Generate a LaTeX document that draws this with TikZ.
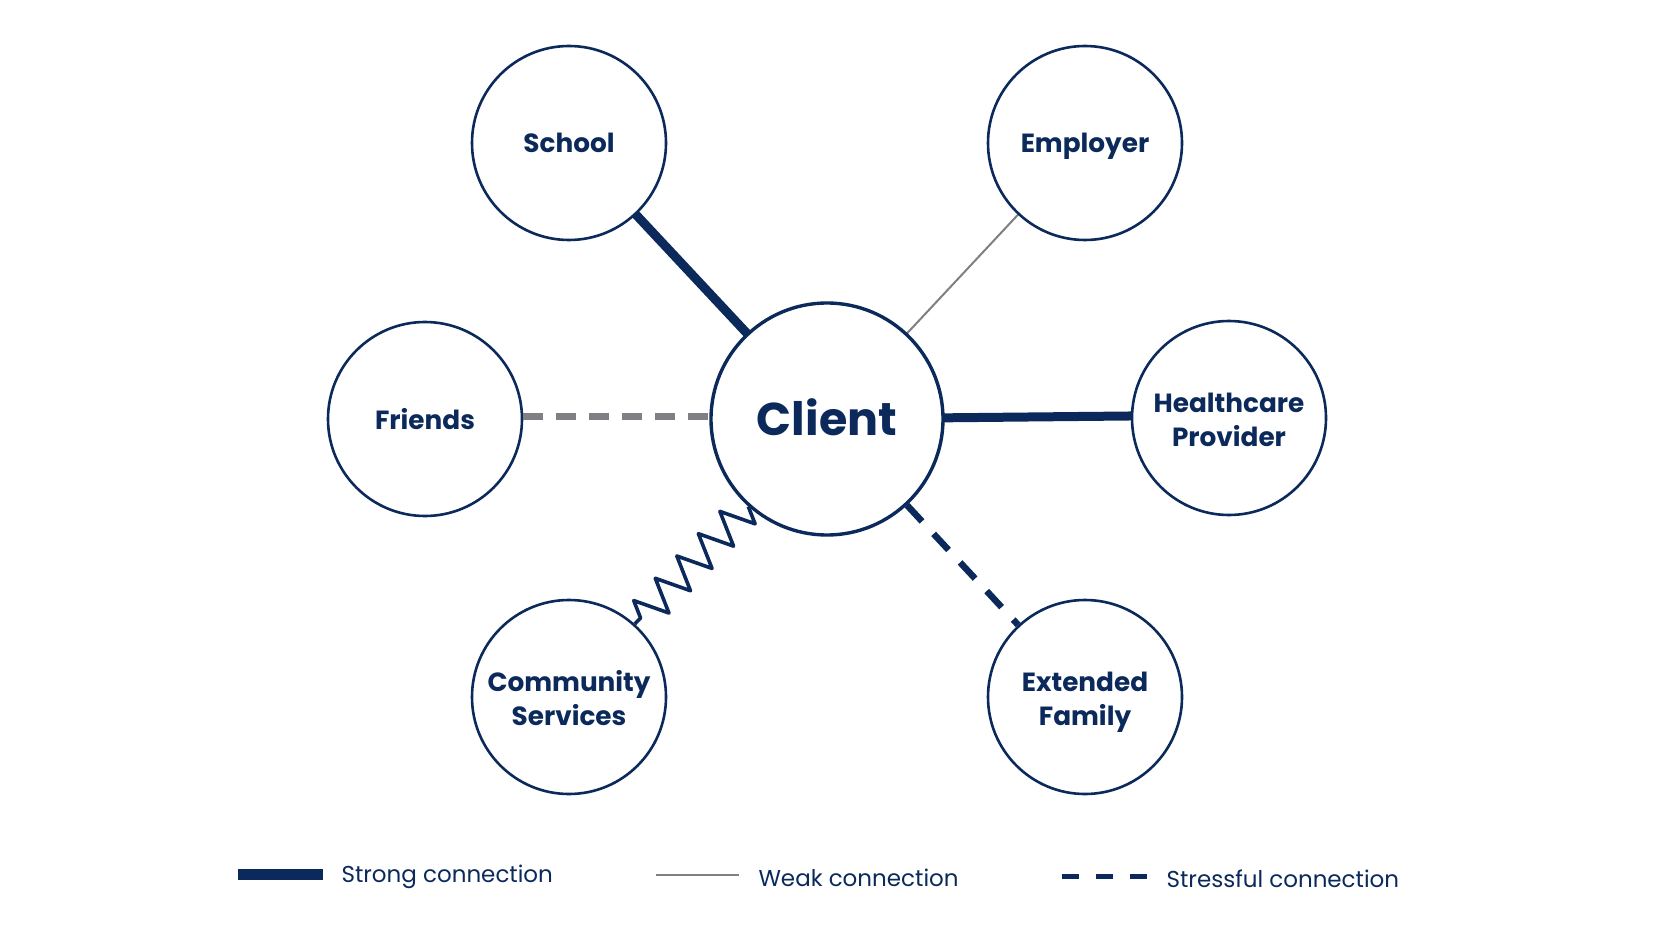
\documentclass[tikz,border=0pt]{standalone}
\usepackage{fontspec}
\setmainfont{Poppins}
\usetikzlibrary{decorations.pathmorphing}
\definecolor{navy}{HTML}{0B2A5B}
\definecolor{greyline}{HTML}{7F8083}
\begin{document}
\begin{tikzpicture}[x=1pt,y=-1pt,
  ent/.style={circle,draw=navy,line width=2.6pt,fill=white,minimum size=194pt,inner sep=0pt},
  lab/.style={anchor=base,inner sep=0pt,text=navy,font=\bfseries\fontsize{26.3}{33}\selectfont},
  strongc/.style={draw=navy,line width=9pt},
  weakc/.style={draw=greyline,line width=2pt},
  friendc/.style={draw=greyline,line width=7pt,dash pattern=on 20pt off 13pt},
  stressc/.style={draw=navy,line width=6.5pt,dash pattern=on 22pt off 17pt},
  zigc/.style={draw=navy,line width=3.6pt,line join=round,decorate,decoration={zigzag,segment length=31pt,amplitude=17pt}},
  legtext/.style={anchor=west,text=navy,font=\fontsize{23}{27}\selectfont}]
\useasboundingbox (0,0) rectangle (1672,941);
\fill[white] (0,0) rectangle (1672,941);
% connectors
\coordinate (cC) at (827,419);
\draw[strongc] (cC) -- (569,143);
\draw[weakc] (cC) -- (1085,143);
\draw[strongc] (cC) -- (1229,415);
% nodes
\node[ent] (school) at (569,143) {};
\node[ent] (employer) at (1085,143) {};
\node[ent] (friends) at (425,419) {};
\node[ent] (health) at (1229,418) {};
\node[ent] (community) at (569,697) {};
\node[ent] (extended) at (1085,697) {};
\node[ent,minimum size=232pt,line width=3.4pt] (client) at (cC) {};
% labels
\node[lab] (tschool) at (569,153) {School};
\node[lab] (temployer) at (1085,153) {Employer};
\node[lab] (tfriends) at (425,429) {Friends};
\node[lab] (thealth1) at (1229,412) {Healthcare};
\node[lab] (thealth2) at (1229,446) {Provider};
\node[lab] (tcomm1) at (569,691) {Community};
\node[lab] (tcomm2) at (569,725) {Services};
\node[lab] (text1) at (1085,691) {Extended};
\node[lab] (text2) at (1085,725) {Family};
\node[lab,font=\bfseries\fontsize{46}{50}\selectfont] (tclient) at (827,435) {Client};
% other connectors
\draw[friendc] (friends.east |- 0,416) -- (client.west |- 0,416);
\draw[stressc] (client) -- (extended);
\draw[zigc] (client.-132) -- (community.48);
% legend
\coordinate (s1) at (238,874); \coordinate (s2) at (323,874);
\draw[strongc,line width=11pt] (s1) -- (s2);
\node[legtext] (ls) at (338,877) {Strong connection};
\coordinate (w1) at (656,875); \coordinate (w2) at (739,875);
\draw[weakc,line width=2.5pt] (w1) -- (w2);
\node[legtext] (lw) at (755,878) {Weak connection};
\coordinate (t1) at (1062,876); \coordinate (t2) at (1147,876);
\draw[draw=navy,line width=5pt,dash pattern=on 17pt off 17pt] (t1) -- (t2);
\node[legtext] (lt) at (1163,879) {Stressful connection};
\end{tikzpicture}
\end{document}
